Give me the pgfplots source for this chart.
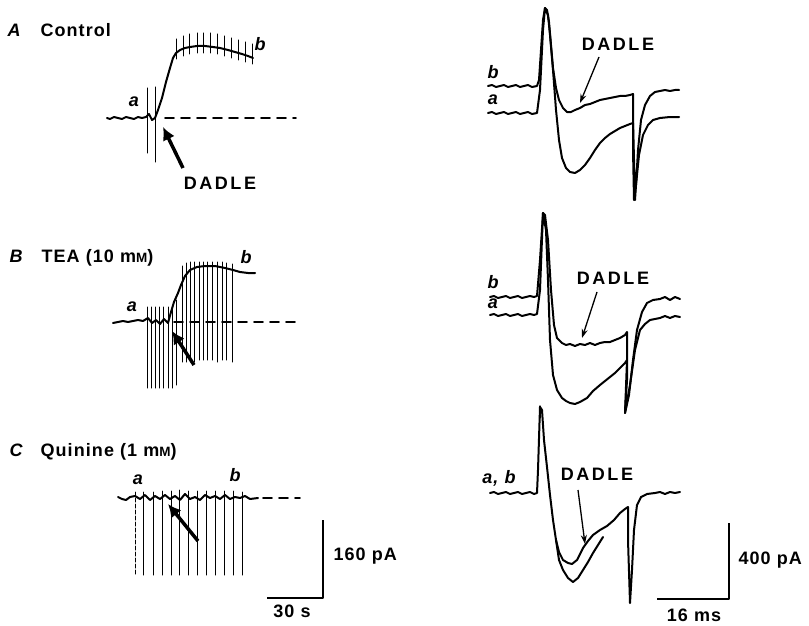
\documentclass[border=0pt]{standalone}
\usepackage{pgfplots}
\pgfplotsset{compat=1.18}
\usepackage{fontspec}
\setmainfont{Liberation Sans}[LetterSpace=6]
\newfontfamily\spaced{Liberation Sans}[LetterSpace=14]
\usetikzlibrary{arrows.meta}
\newcommand{\smM}{{\fontsize{13.5}{14}\selectfont M}}
\tikzset{lab/.style={font=\fontsize{18}{20}\selectfont\bfseries\itshape},
 dad/.style={font=\fontsize{18}{20}\selectfont\spaced\bfseries}}
\begin{document}
\begin{tikzpicture}[font=\fontsize{18}{20}\selectfont\bfseries]
\begin{axis}[x=1pt,y=1pt,xmin=0,xmax=809,ymin=0,ymax=626,y dir=reverse,
  hide axis,clip=false,unbounded coords=jump,
  every axis plot/.append style={line join=round,line cap=round}]
\addplot[draw=none] coordinates {(0,0) (809,626)};
% ---------- Panel A left ----------
\addplot[black,line width=2.0pt] coordinates {(107,118)(110,119)(114,117)(118,118)(122,119)(126,117)(130,118)(134,119)(138,117)(142,118)(146,117)(149,114)(152,120)(155,118)(158,110)(162,98)(166,82)(170,68)(173,58)(176,53)(180,50)(185,48)(190,47)(197,46)(205,46)(213,47)(220,48)(228,50)(235,52)(242,54)(248,56)(253,58)};
\addplot[black,line width=1.0pt] coordinates {(147,88)(147,153) (nan,nan) (155,87)(155,162)
 (nan,nan)(176,39)(176,59) (nan,nan)(183,36)(183,56) (nan,nan)(189,34)(189,54) (nan,nan)(197,33)(197,53)
 (nan,nan)(203,33)(203,53) (nan,nan)(210,33)(210,53) (nan,nan)(217,34)(217,54) (nan,nan)(224,36)(224,56)
 (nan,nan)(231,38)(231,58) (nan,nan)(238,40)(238,60) (nan,nan)(245,42)(245,62) (nan,nan)(252,44)(252,64)};
\addplot[black,line width=1.8pt,dash pattern=on 9pt off 7pt] coordinates {(165,118)(296,118)};
\draw[line width=3.5pt,-{Latex[length=13pt,width=13pt]}] (axis cs:183,168) -- (axis cs:163,127);
\node[dad] at (axis cs:220,183) {DADLE};
\node[lab] at (axis cs:134,102) {a};
\node[lab] at (axis cs:260,44) {b};
\node[anchor=base west,lab] at (axis cs:4,37) {A};
\node[anchor=base west] at (axis cs:37,37) {Control};
% ---------- Panel A right ----------
\addplot[black,line width=2.0pt] coordinates {(488,86)(492,85)(496,87)(500,86)(504,85)(508,87)(512,86)(516,85)(520,87)(524,86)(528,85)(532,87)(537,86)(539,80)(541,50)(543,20)(545,8)(547,10)(549,22)(551,45)(553,68)(556,88)(559,100)(563,108)(567,112)(571,112)(575,110)(580,108)(585,105)(590,104)(595,102)(600,100)(605,99)(610,98)(615,97)(620,96)(625,96)(630,95)(633,94)(633,120)(634,160)(635,200)(636,185)(638,150)(641,120)(645,105)(650,96)(655,92)(660,91)(665,90)(670,91)(675,90)(679,90)};
\addplot[black,line width=2.0pt] coordinates {(488,113)(492,112)(496,114)(500,113)(504,112)(508,114)(512,113)(516,112)(520,114)(524,113)(528,112)(532,114)(537,113)(540,90)(543,30)(545,8)(548,15)(550,35)(553,70)(556,110)(559,140)(562,158)(566,168)(570,172)(575,173)(580,170)(585,165)(590,158)(595,150)(600,143)(605,138)(610,134)(615,131)(620,128)(625,126)(630,124)(633,123)(633,150)(634,200)(636,185)(639,155)(643,135)(648,125)(653,120)(660,118)(670,117)(679,117)};
\draw[line width=1.3pt,-{Stealth[length=9pt,width=6pt]}] (axis cs:599,57) -- (axis cs:580,103);
\node[dad] at (axis cs:618,44) {DADLE};
\node[lab] at (axis cs:493,72) {b};
\node[lab] at (axis cs:493,100) {a};
% ---------- Panel B left ----------
\addplot[black,line width=2.0pt] coordinates {(113,323)(118,322)(123,321)(128,322)(133,321)(138,320)(143,321)(148,318)(152,323)(156,320)(160,324)(164,319)(168,323)(171,312)(174,302)(178,293)(181,285)(185,276)(190,270)(197,267)(205,266)(215,266)(225,268)(233,270)(240,272)(248,273)(255,273)};
\addplot[black,line width=1.0pt] coordinates {(147,307)(147,388)(nan,nan)(151,307)(151,388)(nan,nan)(155,307)(155,388)(nan,nan)(159,307)(159,388)(nan,nan)(163,307)(163,388)(nan,nan)(168,307)(168,388)(nan,nan)(172,307)(172,388)(nan,nan)(176,300)(176,385)
(nan,nan)(182,266)(182,362)(nan,nan)(186,263)(186,362)(nan,nan)(190,262)(190,362)(nan,nan)(194,262)(194,362)(nan,nan)(199,262)(199,360)(nan,nan)(203,262)(203,360)(nan,nan)(207,262)(207,360)(nan,nan)(212,262)(212,360)(nan,nan)(217,262)(217,362)(nan,nan)(222,262)(222,360)(nan,nan)(226,263)(226,360)(nan,nan)(232,264)(232,362)};
\addplot[black,line width=1.8pt,dash pattern=on 9pt off 7pt] coordinates {(174,322)(296,322)};
\draw[line width=3.5pt,-{Latex[length=13pt,width=13pt]}] (axis cs:194,365) -- (axis cs:172,331);
\node[lab] at (axis cs:132,307) {a};
\node[lab] at (axis cs:246,257) {b};
\node[anchor=base west,lab] at (axis cs:6,262) {B};
\node[anchor=base west] at (axis cs:38,262) {TEA (10 m\smM)};
% ---------- Panel B right ----------
\addplot[black,line width=2.0pt] coordinates {(490,297)(494,296)(498,298)(502,297)(506,296)(510,298)(514,297)(518,296)(522,298)(526,297)(530,296)(534,297)(537,296)(540,260)(543,213)(545,215)(548,240)(551,290)(554,325)(557,338)(562,343)(566,345)(570,344)(575,346)(580,344)(585,345)(590,343)(595,345)(600,343)(605,342)(610,342)(615,340)(620,338)(625,335)(627,332)(627,380)(625,413)(629,395)(633,360)(637,330)(642,312)(647,303)(653,300)(660,299)(665,297)(670,300)(675,297)(680,299)};
\addplot[black,line width=2.0pt] coordinates {(490,315)(494,314)(498,316)(502,315)(506,314)(510,316)(514,315)(518,314)(522,316)(526,315)(530,314)(534,315)(537,314)(540,290)(543,213)(546,230)(548,280)(550,340)(553,375)(557,390)(562,398)(566,401)(570,403)(575,404)(580,402)(587,398)(593,391)(600,385)(605,381)(610,377)(615,373)(620,368)(625,363)(627,360)(625,413)(630,385)(635,350)(640,330)(645,324)(650,320)(655,319)(660,318)(665,316)(670,318)(675,316)(680,317)};
\addplot[black,line width=1.2pt] coordinates {(540,406)(540,418)};
\draw[line width=1.3pt,-{Stealth[length=9pt,width=6pt]}] (axis cs:597,292) -- (axis cs:582,338);
\node[dad] at (axis cs:613,278) {DADLE};
\node[lab] at (axis cs:493,282) {b};
\node[lab] at (axis cs:493,304) {a};
% ---------- Panel C left ----------
\addplot[black,line width=2.0pt] coordinates {(118,497)(122,499)(126,500)(130,497)(135,496)(140,499)(145,495)(150,500)(155,496)(160,499)(165,495)(170,499)(175,496)(180,500)(185,494)(190,499)(195,497)(200,500)(205,495)(210,498)(215,496)(220,499)(225,495)(230,499)(235,497)(240,498)(245,496)(250,499)(258,498)};
\addplot[black,line width=1.0pt] coordinates {(143,492)(143,575)(nan,nan)(153,492)(153,575)(nan,nan)(162,491)(162,575)(nan,nan)(171,491)(171,575)(nan,nan)(179,490)(179,575)(nan,nan)(188,491)(188,575)(nan,nan)(197,491)(197,575)(nan,nan)(206,491)(206,575)(nan,nan)(215,491)(215,575)(nan,nan)(224,491)(224,575)(nan,nan)(233,491)(233,575)(nan,nan)(242,492)(242,575)};
\addplot[black,line width=1.0pt,dash pattern=on 4pt off 2pt] coordinates {(135,492)(135,575)};
\addplot[black,line width=1.8pt,dash pattern=on 9pt off 7pt] coordinates {(263,498)(300,498)};
\draw[line width=3.5pt,-{Latex[length=13pt,width=13pt]}] (axis cs:198,541) -- (axis cs:168,504);
\node[lab] at (axis cs:138,480) {a};
\node[lab] at (axis cs:235,475) {b};
\node[anchor=base west,lab] at (axis cs:6,456) {C};
\node[anchor=base west] at (axis cs:37,456) {Quinine (1 m\smM)};
% scale bar left
\addplot[black,line width=2.8pt,line cap=butt] coordinates {(267,598)(323,598)(323,520)};
\node[anchor=west] at (axis cs:330,556) {160 pA};
\node at (axis cs:292,611) {30 s};
% ---------- Panel C right ----------
\addplot[black,line width=2.0pt] coordinates {(490,493)(494,492)(498,494)(502,493)(506,492)(510,494)(514,493)(518,492)(522,494)(526,493)(530,492)(534,494)(537,493)(538,470)(540,407)(542,410)(544,440)(547,467)(550,495)(553,520)(556,540)(559,552)(563,560)(568,563)(572,564)(577,560)(583,548)(588,541)(593,535)(600,530)(607,526)(614,520)(620,513)(625,509)(628,507)(628,540)(630,603)(632,570)(634,530)(637,505)(641,497)(647,494)(655,493)(660,492)(665,494)(670,492)(675,493)(680,492)};
\addplot[black,line width=2.0pt] coordinates {(556,540)(559,560)(563,570)(568,578)(573,582)(578,578)(583,570)(588,562)(593,553)(598,545)(603,537)};
\draw[line width=1.3pt,-{Stealth[length=9pt,width=6pt]}] (axis cs:578,490) -- (axis cs:585,544);
\node[dad] at (axis cs:597,474) {DADLE};
\node[lab] at (axis cs:499,478) {a, b};
% scale bar right
\addplot[black,line width=2.8pt,line cap=butt] coordinates {(657,599)(729,599)(729,523)};
\node[anchor=west] at (axis cs:735,560) {400 pA};
\node at (axis cs:694,615) {16 ms};
\end{axis}
\end{tikzpicture}
\end{document}
